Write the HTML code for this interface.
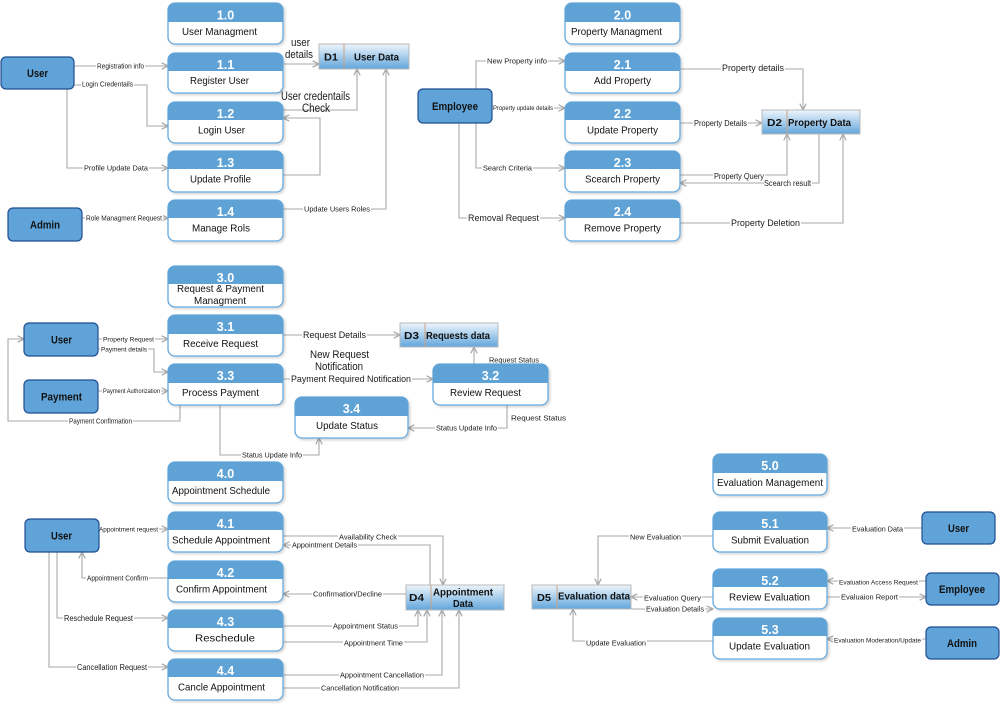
<!DOCTYPE html>
<html><head><meta charset="utf-8"><style>
html,body{margin:0;padding:0;background:#fff;}
svg{display:block;font-family:"Liberation Sans",Arial,sans-serif;}
.ln{fill:none;stroke:#a9a9a9;stroke-width:1.1;}
.num{fill:#fff;font-weight:bold;font-size:12.5px;text-anchor:middle;}
.pl{fill:#111;font-size:10.5px;}
.et{fill:#111;font-weight:bold;font-size:11px;}
.st{fill:#111;font-weight:bold;font-size:10.5px;}
.cl{fill:#1a1a1a;}
.bg{fill:#fff;}
.ent{fill:#5fa3d8;stroke:#1f4f91;stroke-width:1.2;}
.pbox{fill:#fff;stroke:#66a9dd;stroke-width:1.3;filter:url(#sh);}
.phd{fill:#5fa3d6;}
.sto{fill:url(#g);stroke:#b8b8b8;stroke-width:1;}
.div{stroke:#c9a384;stroke-width:1;}
</style></head><body>
<svg width="1000" height="707" viewBox="0 0 1000 707" xmlns="http://www.w3.org/2000/svg">
<defs>
<linearGradient id="g" x1="0" y1="0" x2="0" y2="1"><stop offset="0" stop-color="#eef5fc"/><stop offset="1" stop-color="#62a6dc"/></linearGradient>
<filter id="sh" x="-10%" y="-10%" width="125%" height="135%"><feDropShadow dx="1.5" dy="1.5" stdDeviation="1.2" flood-color="#000" flood-opacity="0.18"/></filter>
<marker id="a" viewBox="0 0 10 10" refX="9.5" refY="5" markerWidth="8" markerHeight="8" orient="auto" markerUnits="userSpaceOnUse"><path d="M1.5,1 L9.5,5 L1.5,9" fill="none" stroke="#a9a9a9" stroke-width="1.6"/></marker>
</defs>

<!-- ===== connectors ===== -->
<g class="ln" marker-end="url(#a)">
<path d="M74,66 H168"/>
<path d="M74,85 H147 V126 H168"/>
<path d="M67,89 V168 H168"/>
<path d="M283,64 H319"/>
<path d="M283,110 H357 V69"/>
<path d="M283,175 H320 V118 H283"/>
<path d="M283,209 H386 V69"/>
<path d="M82,218 H168"/>

<path d="M476,89 V61 H565"/>
<path d="M492,108 H565"/>
<path d="M476,123 V168 H565"/>
<path d="M459,123 V218 H565"/>
<path d="M680,69 H803 V110"/>
<path d="M680,123 H762"/>
<path d="M680,175 H787 V134"/>
<path d="M819,134 V183 H680"/>
<path d="M680,223 H843 V134"/>

<path d="M98,339 H168"/>
<path d="M98,349 H154 V372 H168"/>
<path d="M98,391 H168"/>
<path d="M180,405 V421 H8 V339 H24"/>
<path d="M283,335 H400"/>
<path d="M283,379 H433"/>
<path d="M474,364 V347"/>
<path d="M507,405 V428 H408"/>
<path d="M220,405 V455 H319 V438"/>

<path d="M99,529 H168"/>
<path d="M168,578 H82 V552"/>
<path d="M57,552 V618 H168"/>
<path d="M49,552 V667 H168"/>
<path d="M283,536 H443 V585"/>
<path d="M430,585 V545 H283"/>
<path d="M406,594 H283"/>
<path d="M283,626 H418 V610"/>
<path d="M283,642 H427 V610"/>
<path d="M283,675 H442 V610"/>
<path d="M283,688 H459 V610"/>

<path d="M922,528 H827"/>
<path d="M713,536 H598 V585"/>
<path d="M926,581 H827"/>
<path d="M827,597 H926"/>
<path d="M713,597 H631"/>
<path d="M631,609 H713"/>
<path d="M926,639 H827"/>
<path d="M713,641 H573 V609"/>
</g>

<!-- ===== connector labels ===== -->
<g>
<rect class="bg" x="96" y="62" width="49" height="8"/><text class="cl" x="97" y="68.5" font-size="7" textLength="47" lengthAdjust="spacingAndGlyphs">Registration info</text>
<rect class="bg" x="81" y="80" width="53" height="8"/><text class="cl" x="82" y="86.5" font-size="7" textLength="51" lengthAdjust="spacingAndGlyphs">Login Credentails</text>
<rect class="bg" x="83" y="164" width="66" height="8"/><text class="cl" x="84" y="170.7" font-size="7.5" textLength="64" lengthAdjust="spacingAndGlyphs">Profile Update Data</text>
<rect class="bg" x="85" y="214" width="78" height="8"/><text class="cl" x="86" y="220.5" font-size="7" textLength="76" lengthAdjust="spacingAndGlyphs">Role Managment Request</text>
<rect class="bg" x="303" y="205" width="68" height="8"/><text class="cl" x="304" y="211.7" font-size="7.5" textLength="66" lengthAdjust="spacingAndGlyphs">Update Users Roles</text>
<text class="cl" x="291" y="46" font-size="11" textLength="19" lengthAdjust="spacingAndGlyphs">user</text>
<text class="cl" x="285" y="58" font-size="11" textLength="28" lengthAdjust="spacingAndGlyphs">details</text>
<text class="cl" x="281" y="100" font-size="11.5" textLength="69" lengthAdjust="spacingAndGlyphs">User credentails</text>
<text class="cl" x="302" y="112" font-size="11.5" textLength="28" lengthAdjust="spacingAndGlyphs">Check</text>

<rect class="bg" x="486" y="57" width="62" height="8"/><text class="cl" x="487" y="63.7" font-size="7.5" textLength="60" lengthAdjust="spacingAndGlyphs">New Property info</text>
<rect class="bg" x="492" y="104" width="62" height="8"/><text class="cl" x="493" y="110.2" font-size="6" textLength="60" lengthAdjust="spacingAndGlyphs">Property update details</text>
<rect class="bg" x="482" y="164" width="51" height="8"/><text class="cl" x="483" y="170.7" font-size="7.5" textLength="49" lengthAdjust="spacingAndGlyphs">Search Criteria</text>
<rect class="bg" x="467" y="213" width="73" height="10"/><text class="cl" x="468" y="221.2" font-size="9" textLength="71" lengthAdjust="spacingAndGlyphs">Removal Request</text>
<rect class="bg" x="721" y="63" width="64" height="10"/><text class="cl" x="722" y="71.2" font-size="9" textLength="62" lengthAdjust="spacingAndGlyphs">Property details</text>
<rect class="bg" x="693" y="119" width="55" height="8"/><text class="cl" x="694" y="125.9" font-size="8" textLength="53" lengthAdjust="spacingAndGlyphs">Property Details</text>
<rect class="bg" x="713" y="172" width="52" height="8"/><text class="cl" x="714" y="178.9" font-size="8" textLength="50" lengthAdjust="spacingAndGlyphs">Property Query</text>
<rect class="bg" x="764" y="179" width="48" height="8"/><text class="cl" x="764" y="185.9" font-size="8" textLength="47" lengthAdjust="spacingAndGlyphs">Scearch result</text>
<rect class="bg" x="730" y="218" width="71" height="10"/><text class="cl" x="731" y="226.2" font-size="9" textLength="69" lengthAdjust="spacingAndGlyphs">Property Deletion</text>

<rect class="bg" x="102" y="335" width="53" height="8"/><text class="cl" x="103" y="341.3" font-size="6.5" textLength="51" lengthAdjust="spacingAndGlyphs">Property Request</text>
<rect class="bg" x="100" y="345" width="48" height="8"/><text class="cl" x="101" y="351.3" font-size="6.5" textLength="46" lengthAdjust="spacingAndGlyphs">Payment details</text>
<rect class="bg" x="102" y="387" width="59" height="8"/><text class="cl" x="103" y="393.2" font-size="6" textLength="57" lengthAdjust="spacingAndGlyphs">Payment Authorization</text>
<rect class="bg" x="68" y="417" width="65" height="8"/><text class="cl" x="69" y="423.5" font-size="7" textLength="63" lengthAdjust="spacingAndGlyphs">Payment Confirmation</text>
<rect class="bg" x="302" y="330" width="65" height="10"/><text class="cl" x="303" y="338.2" font-size="9" textLength="63" lengthAdjust="spacingAndGlyphs">Request Details</text>
<rect class="bg" x="290" y="374" width="122" height="10"/><text class="cl" x="291" y="382.2" font-size="9" textLength="120" lengthAdjust="spacingAndGlyphs">Payment Required Notification</text>
<text class="cl" x="310" y="358" font-size="11" textLength="59" lengthAdjust="spacingAndGlyphs">New Request</text>
<text class="cl" x="315" y="370" font-size="11" textLength="48" lengthAdjust="spacingAndGlyphs">Notification</text>
<text class="cl" x="489" y="362.7" font-size="7.5" textLength="50" lengthAdjust="spacingAndGlyphs">Request Status</text>
<text class="cl" x="511" y="420.7" font-size="7.5" textLength="55" lengthAdjust="spacingAndGlyphs">Request Status</text>
<rect class="bg" x="435" y="424" width="63" height="8"/><text class="cl" x="436" y="430.7" font-size="7.5" textLength="61" lengthAdjust="spacingAndGlyphs">Status Update Info</text>
<rect class="bg" x="241" y="451" width="62" height="8"/><text class="cl" x="242" y="457.7" font-size="7.5" textLength="60" lengthAdjust="spacingAndGlyphs">Status Update Info</text>

<rect class="bg" x="99" y="525" width="60" height="8"/><text class="cl" x="99" y="531.3" font-size="6.5" textLength="59" lengthAdjust="spacingAndGlyphs">Appointment request</text>
<rect class="bg" x="86" y="574" width="63" height="8"/><text class="cl" x="87" y="580.5" font-size="7" textLength="61" lengthAdjust="spacingAndGlyphs">Appointment Confirm</text>
<rect class="bg" x="63" y="614" width="71" height="8"/><text class="cl" x="64" y="620.9" font-size="8" textLength="69" lengthAdjust="spacingAndGlyphs">Reschedule Request</text>
<rect class="bg" x="76" y="663" width="72" height="8"/><text class="cl" x="77" y="669.9" font-size="8" textLength="70" lengthAdjust="spacingAndGlyphs">Cancellation Request</text>
<rect class="bg" x="338" y="533" width="60" height="7"/><text class="cl" x="339" y="539.7" font-size="7.5" textLength="58" lengthAdjust="spacingAndGlyphs">Availability Check</text>
<rect class="bg" x="291" y="541" width="67" height="8"/><text class="cl" x="292" y="547.7" font-size="7.5" textLength="65" lengthAdjust="spacingAndGlyphs">Appointment Details</text>
<rect class="bg" x="312" y="590" width="71" height="8"/><text class="cl" x="313" y="596.7" font-size="7.5" textLength="69" lengthAdjust="spacingAndGlyphs">Confirmation/Decline</text>
<rect class="bg" x="332" y="622" width="67" height="8"/><text class="cl" x="333" y="628.7" font-size="7.5" textLength="65" lengthAdjust="spacingAndGlyphs">Appointment Status</text>
<rect class="bg" x="343" y="639" width="61" height="8"/><text class="cl" x="344" y="645.7" font-size="7.5" textLength="59" lengthAdjust="spacingAndGlyphs">Appointment Time</text>
<rect class="bg" x="339" y="671" width="86" height="8"/><text class="cl" x="340" y="677.7" font-size="7.5" textLength="84" lengthAdjust="spacingAndGlyphs">Appointment Cancellation</text>
<rect class="bg" x="320" y="684" width="80" height="8"/><text class="cl" x="321" y="690.7" font-size="7.5" textLength="78" lengthAdjust="spacingAndGlyphs">Cancellation Notification</text>

<rect class="bg" x="851" y="525" width="53" height="8"/><text class="cl" x="852" y="531.7" font-size="7.5" textLength="51" lengthAdjust="spacingAndGlyphs">Evaluation Data</text>
<rect class="bg" x="629" y="533" width="53" height="8"/><text class="cl" x="630" y="539.7" font-size="7.5" textLength="51" lengthAdjust="spacingAndGlyphs">New Evaluation</text>
<rect class="bg" x="838" y="578" width="81" height="8"/><text class="cl" x="839" y="584.3" font-size="6.5" textLength="79" lengthAdjust="spacingAndGlyphs">Evaluation Access Request</text>
<rect class="bg" x="840" y="593" width="59" height="8"/><text class="cl" x="841" y="599.7" font-size="7.5" textLength="57" lengthAdjust="spacingAndGlyphs">Evaluaion Report</text>
<rect class="bg" x="643" y="594" width="59" height="8"/><text class="cl" x="644" y="600.7" font-size="7.5" textLength="57" lengthAdjust="spacingAndGlyphs">Evaluation Query</text>
<rect class="bg" x="645" y="605" width="60" height="8"/><text class="cl" x="646" y="611.7" font-size="7.5" textLength="58" lengthAdjust="spacingAndGlyphs">Evaluation Details</text>
<rect class="bg" x="833" y="636" width="89" height="8"/><text class="cl" x="834" y="642.3" font-size="6.5" textLength="87" lengthAdjust="spacingAndGlyphs">Evaluation Moderation/Update</text>
<rect class="bg" x="585" y="639" width="62" height="8"/><text class="cl" x="586" y="645.7" font-size="7.5" textLength="60" lengthAdjust="spacingAndGlyphs">Update Evaluation</text>
</g>

<!-- ===== entities ===== -->
<g>
<rect class="ent" x="1" y="57" width="73" height="32" rx="5"/><text class="et" x="27" y="77" textLength="21" lengthAdjust="spacingAndGlyphs">User</text>
<rect class="ent" x="8" y="208" width="74" height="33" rx="5"/><text class="et" x="30" y="228.5" textLength="30" lengthAdjust="spacingAndGlyphs">Admin</text>
<rect class="ent" x="418" y="89" width="74" height="34" rx="5"/><text class="et" x="432" y="110" textLength="46" lengthAdjust="spacingAndGlyphs">Employee</text>
<rect class="ent" x="24" y="323" width="74" height="33" rx="5"/><text class="et" x="51" y="343.5" textLength="21" lengthAdjust="spacingAndGlyphs">User</text>
<rect class="ent" x="24" y="380" width="74" height="33" rx="5"/><text class="et" x="41" y="400.5" textLength="41" lengthAdjust="spacingAndGlyphs">Payment</text>
<rect class="ent" x="25" y="519" width="74" height="33" rx="5"/><text class="et" x="51" y="539.5" textLength="21" lengthAdjust="spacingAndGlyphs">User</text>
<rect class="ent" x="922" y="512" width="73" height="32" rx="5"/><text class="et" x="948" y="532" textLength="21" lengthAdjust="spacingAndGlyphs">User</text>
<rect class="ent" x="926" y="573" width="73" height="32" rx="5"/><text class="et" x="939" y="593" textLength="46" lengthAdjust="spacingAndGlyphs">Employee</text>
<rect class="ent" x="926" y="627" width="73" height="32" rx="5"/><text class="et" x="947" y="647" textLength="30" lengthAdjust="spacingAndGlyphs">Admin</text>
</g>

<!-- ===== data stores ===== -->
<g>
<rect class="sto" x="319" y="44" width="90" height="25"/><line class="div" x1="344" y1="44" x2="344" y2="69"/>
<text class="st" x="324" y="60.5" textLength="14" lengthAdjust="spacingAndGlyphs">D1</text><text class="st" x="354" y="60.5" textLength="45" lengthAdjust="spacingAndGlyphs">User Data</text>

<rect class="sto" x="762" y="110" width="98" height="24"/><line class="div" x1="787" y1="110" x2="787" y2="134"/>
<text class="st" x="767" y="126" textLength="15" lengthAdjust="spacingAndGlyphs">D2</text><text class="st" x="788" y="126" textLength="63" lengthAdjust="spacingAndGlyphs">Property Data</text>

<rect class="sto" x="400" y="323" width="98" height="24"/><line class="div" x1="425" y1="323" x2="425" y2="347"/>
<text class="st" x="404" y="339" textLength="15" lengthAdjust="spacingAndGlyphs">D3</text><text class="st" x="426" y="339" textLength="64" lengthAdjust="spacingAndGlyphs">Requests data</text>

<rect class="sto" x="406" y="585" width="98" height="25"/><line class="div" x1="431" y1="585" x2="431" y2="610"/>
<text class="st" x="409" y="601" textLength="15" lengthAdjust="spacingAndGlyphs">D4</text>
<text class="st" x="433" y="595.5" textLength="60" lengthAdjust="spacingAndGlyphs">Appointment</text>
<text class="st" x="453" y="607" textLength="20" lengthAdjust="spacingAndGlyphs">Data</text>

<rect class="sto" x="532" y="585" width="99" height="24"/><line class="div" x1="557" y1="585" x2="557" y2="609"/>
<text class="st" x="537" y="601" textLength="14" lengthAdjust="spacingAndGlyphs">D5</text><text class="st" x="558" y="599.5" textLength="72" lengthAdjust="spacingAndGlyphs">Evaluation data</text>
</g>

<!-- ===== processes ===== -->
<g>
<!-- 1.x -->
<rect class="pbox" x="168" y="3" width="115" height="41" rx="7"/><path class="phd" d="M168,22 V10 Q168,3 175,3 H276 Q283,3 283,10 V22 Z"/>
<text class="num" x="225.5" y="19.5">1.0</text><text class="pl" x="182" y="35" textLength="75" lengthAdjust="spacingAndGlyphs">User Managment</text>

<rect class="pbox" x="168" y="53" width="115" height="40" rx="7"/><path class="phd" d="M168,71 V60 Q168,53 175,53 H276 Q283,53 283,60 V71 Z"/>
<text class="num" x="225.5" y="69">1.1</text><text class="pl" x="190" y="84" textLength="59" lengthAdjust="spacingAndGlyphs">Register User</text>

<rect class="pbox" x="168" y="102" width="115" height="41" rx="7"/><path class="phd" d="M168,120 V109 Q168,102 175,102 H276 Q283,102 283,109 V120 Z"/>
<text class="num" x="225.5" y="118">1.2</text><text class="pl" x="198" y="133.5" textLength="47" lengthAdjust="spacingAndGlyphs">Login User</text>

<rect class="pbox" x="168" y="151" width="115" height="41" rx="7"/><path class="phd" d="M168,169 V158 Q168,151 175,151 H276 Q283,151 283,158 V169 Z"/>
<text class="num" x="225.5" y="167">1.3</text><text class="pl" x="190" y="182.5" textLength="61" lengthAdjust="spacingAndGlyphs">Update Profile</text>

<rect class="pbox" x="168" y="200" width="115" height="41" rx="7"/><path class="phd" d="M168,218 V207 Q168,200 175,200 H276 Q283,200 283,207 V218 Z"/>
<text class="num" x="225.5" y="216">1.4</text><text class="pl" x="192" y="231.5" textLength="58" lengthAdjust="spacingAndGlyphs">Manage Rols</text>

<!-- 2.x -->
<rect class="pbox" x="565" y="3" width="115" height="41" rx="7"/><path class="phd" d="M565,22 V10 Q565,3 572,3 H673 Q680,3 680,10 V22 Z"/>
<text class="num" x="622.5" y="19.5">2.0</text><text class="pl" x="571" y="35" textLength="91" lengthAdjust="spacingAndGlyphs">Property Managment</text>

<rect class="pbox" x="565" y="53" width="115" height="40" rx="7"/><path class="phd" d="M565,71 V60 Q565,53 572,53 H673 Q680,53 680,60 V71 Z"/>
<text class="num" x="622.5" y="69">2.1</text><text class="pl" x="594" y="84" textLength="57" lengthAdjust="spacingAndGlyphs">Add Property</text>

<rect class="pbox" x="565" y="102" width="115" height="41" rx="7"/><path class="phd" d="M565,120 V109 Q565,102 572,102 H673 Q680,102 680,109 V120 Z"/>
<text class="num" x="622.5" y="118">2.2</text><text class="pl" x="587" y="133.5" textLength="71" lengthAdjust="spacingAndGlyphs">Update Property</text>

<rect class="pbox" x="565" y="151" width="115" height="41" rx="7"/><path class="phd" d="M565,169 V158 Q565,151 572,151 H673 Q680,151 680,158 V169 Z"/>
<text class="num" x="622.5" y="167">2.3</text><text class="pl" x="585" y="182.5" textLength="75" lengthAdjust="spacingAndGlyphs">Scearch Property</text>

<rect class="pbox" x="565" y="200" width="115" height="41" rx="7"/><path class="phd" d="M565,218 V207 Q565,200 572,200 H673 Q680,200 680,207 V218 Z"/>
<text class="num" x="622.5" y="216">2.4</text><text class="pl" x="584" y="231.5" textLength="77" lengthAdjust="spacingAndGlyphs">Remove Property</text>

<!-- 3.x -->
<rect class="pbox" x="168" y="266" width="115" height="41" rx="7"/><path class="phd" d="M168,284 V273 Q168,266 175,266 H276 Q283,266 283,273 V284 Z"/>
<text class="num" x="225.5" y="282">3.0</text>
<text class="pl" x="177" y="292" textLength="87" lengthAdjust="spacingAndGlyphs">Request &amp; Payment</text>
<text class="pl" x="194" y="304" textLength="52" lengthAdjust="spacingAndGlyphs">Managment</text>

<rect class="pbox" x="168" y="315" width="115" height="41" rx="7"/><path class="phd" d="M168,334 V322 Q168,315 175,315 H276 Q283,315 283,322 V334 Z"/>
<text class="num" x="225.5" y="331">3.1</text><text class="pl" x="183" y="347" textLength="75" lengthAdjust="spacingAndGlyphs">Receive Request</text>

<rect class="pbox" x="168" y="364" width="115" height="41" rx="7"/><path class="phd" d="M168,383 V371 Q168,364 175,364 H276 Q283,364 283,371 V383 Z"/>
<text class="num" x="225.5" y="380">3.3</text><text class="pl" x="182" y="396" textLength="77" lengthAdjust="spacingAndGlyphs">Process Payment</text>

<rect class="pbox" x="433" y="364" width="115" height="41" rx="7"/><path class="phd" d="M433,383 V371 Q433,364 440,364 H541 Q548,364 548,371 V383 Z"/>
<text class="num" x="490.5" y="380">3.2</text><text class="pl" x="450" y="396" textLength="71" lengthAdjust="spacingAndGlyphs">Review Request</text>

<rect class="pbox" x="295" y="397" width="113" height="41" rx="7"/><path class="phd" d="M295,416 V404 Q295,397 302,397 H401 Q408,397 408,404 V416 Z"/>
<text class="num" x="351.5" y="413">3.4</text><text class="pl" x="316" y="429" textLength="62" lengthAdjust="spacingAndGlyphs">Update Status</text>

<!-- 4.x -->
<rect class="pbox" x="168" y="462" width="115" height="41" rx="7"/><path class="phd" d="M168,481 V469 Q168,462 175,462 H276 Q283,462 283,469 V481 Z"/>
<text class="num" x="225.5" y="478">4.0</text><text class="pl" x="172" y="494" textLength="98" lengthAdjust="spacingAndGlyphs">Appointment Schedule</text>

<rect class="pbox" x="168" y="512" width="115" height="40" rx="7"/><path class="phd" d="M168,530 V519 Q168,512 175,512 H276 Q283,512 283,519 V530 Z"/>
<text class="num" x="225.5" y="528">4.1</text><text class="pl" x="172" y="543.5" textLength="98" lengthAdjust="spacingAndGlyphs">Schedule Appointment</text>

<rect class="pbox" x="168" y="561" width="115" height="41" rx="7"/><path class="phd" d="M168,579 V568 Q168,561 175,561 H276 Q283,561 283,568 V579 Z"/>
<text class="num" x="225.5" y="577">4.2</text><text class="pl" x="176" y="592.5" textLength="91" lengthAdjust="spacingAndGlyphs">Confirm Appointment</text>

<rect class="pbox" x="168" y="610" width="115" height="41" rx="7"/><path class="phd" d="M168,628 V617 Q168,610 175,610 H276 Q283,610 283,617 V628 Z"/>
<text class="num" x="225.5" y="626">4.3</text><text class="pl" x="195" y="641.5" textLength="60" lengthAdjust="spacingAndGlyphs">Reschedule</text>

<rect class="pbox" x="168" y="659" width="115" height="41" rx="7"/><path class="phd" d="M168,677 V666 Q168,659 175,659 H276 Q283,659 283,666 V677 Z"/>
<text class="num" x="225.5" y="675">4.4</text><text class="pl" x="178" y="690.5" textLength="87" lengthAdjust="spacingAndGlyphs">Cancle Appointment</text>

<!-- 5.x -->
<rect class="pbox" x="713" y="454" width="114" height="41" rx="7"/><path class="phd" d="M713,473 V461 Q713,454 720,454 H820 Q827,454 827,461 V473 Z"/>
<text class="num" x="770" y="470">5.0</text><text class="pl" x="717" y="486" textLength="106" lengthAdjust="spacingAndGlyphs">Evaluation Management</text>

<rect class="pbox" x="713" y="512" width="114" height="40" rx="7"/><path class="phd" d="M713,530 V519 Q713,512 720,512 H820 Q827,512 827,519 V530 Z"/>
<text class="num" x="770" y="528">5.1</text><text class="pl" x="731" y="543.5" textLength="78" lengthAdjust="spacingAndGlyphs">Submit Evaluation</text>

<rect class="pbox" x="713" y="569" width="114" height="40" rx="7"/><path class="phd" d="M713,587 V576 Q713,569 720,569 H820 Q827,569 827,576 V587 Z"/>
<text class="num" x="770" y="585">5.2</text><text class="pl" x="729" y="600.5" textLength="81" lengthAdjust="spacingAndGlyphs">Review Evaluation</text>

<rect class="pbox" x="713" y="618" width="114" height="41" rx="7"/><path class="phd" d="M713,636 V625 Q713,618 720,618 H820 Q827,618 827,625 V636 Z"/>
<text class="num" x="770" y="634">5.3</text><text class="pl" x="729" y="649.5" textLength="81" lengthAdjust="spacingAndGlyphs">Update Evaluation</text>
</g>
</svg>
</body></html>
